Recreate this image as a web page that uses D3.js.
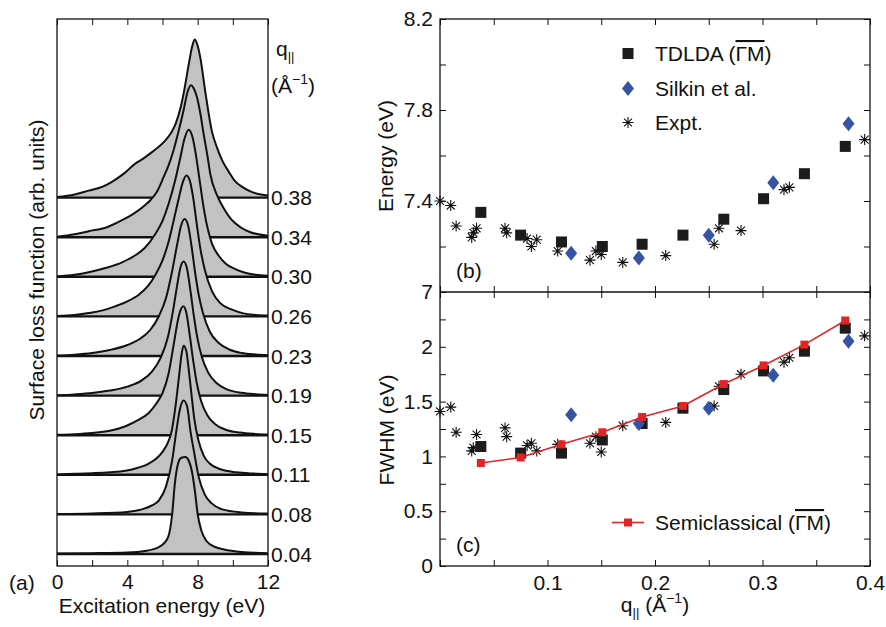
<!DOCTYPE html>
<html>
<head>
<meta charset="utf-8">
<script src="https://cdn.jsdelivr.net/npm/d3@7"></script>
<style>
  body { margin: 0; background: #fff; }
  svg { display: block; }
  text { font-family: "Liberation Sans", Arial, sans-serif; fill: #111; }
</style>
</head>
<body>
<script>
// ---- panel (a): loss spectra, [energy eV, height arb.] ----
const qLabels = ["0.04", "0.08", "0.11", "0.15", "0.19", "0.23", "0.26", "0.30", "0.34", "0.38"];

const loss004 = [[0,0.5],[2,0.8],[4,1.5],[5,3],[5.8,7],[6.3,16],[6.55,40],[6.7,70],[6.85,88],[7.05,96],[7.3,97],[7.5,93],[7.7,80],[7.85,62],[8.0,40],[8.2,24],[8.5,13],[9.0,7],[9.5,4.5],[10.5,2],[12,0.8]];
const loss008 = [[0,0.5],[2,1],[4,2.5],[5,6],[5.4,9],[5.8,14],[6.2,28],[6.55,54],[6.8,85],[7.0,106],[7.2,114],[7.4,108],[7.6,82],[7.8,62],[8.05,38],[8.4,20],[8.8,11],[9.4,5],[10.5,2],[12,0.8]];
const loss011 = [[0,0.4],[1,1],[2,1.6],[3,2.5],[3.9,4],[4.6,7],[5.2,11],[5.7,17],[6.0,23],[6.3,32],[6.5,42],[6.75,70],[6.95,100],[7.08,120],[7.2,129],[7.35,124],[7.5,104],[7.65,80],[7.8,57],[8.05,34],[8.35,19],[8.7,11],[9.3,5.5],[10.2,2.5],[11.2,1.2],[12,0.6]];
const loss015 = [[0,0.4],[1,1],[2,2.2],[3,4.5],[3.9,9],[4.6,15],[5.2,22],[5.7,33],[6.0,42],[6.35,62],[6.65,92],[6.9,117],[7.05,126],[7.18,129],[7.35,123],[7.55,100],[7.75,74],[7.95,52],[8.2,34],[8.55,20],[9.0,11],[9.6,5.5],[10.4,2.6],[11.3,1.2],[12,0.6]];
const loss019 = [[0,0.4],[1,1.2],[2,2.5],[3,5],[4,9],[4.8,15],[5.4,24],[5.9,38],[6.3,58],[6.6,85],[6.85,112],[7.02,128],[7.2,134],[7.38,128],[7.58,106],[7.78,80],[7.98,58],[8.25,38],[8.6,23],[9.1,12],[9.7,6],[10.5,2.8],[11.3,1.4],[12,0.7]];
const loss023 = [[0,0.4],[1,1.3],[2,3],[3,6],[4,11],[4.7,17],[5.3,26],[5.8,40],[6.2,58],[6.55,85],[6.85,113],[7.05,130],[7.26,137],[7.45,131],[7.65,110],[7.85,84],[8.05,62],[8.3,43],[8.7,24],[9.2,13],[9.8,6.5],[10.5,3],[11.3,1.5],[12,0.8]];
const loss026 = [[0,0.4],[1,1.5],[1.8,3.3],[2.6,6],[3.3,10],[4.0,15],[4.65,21.7],[5.2,31],[5.6,41.7],[6.0,56],[6.35,75],[6.65,97],[6.95,120],[7.15,134],[7.36,141],[7.55,136],[7.75,118],[7.95,92],[8.15,68],[8.4,47],[8.82,25],[9.3,13],[9.96,6.7],[10.6,3],[11.3,1.5],[12,0.8]];
const loss030 = [[0,0.4],[1,2],[1.8,4.5],[2.8,9],[3.7,14.5],[4.5,22],[5.0,29],[5.6,43],[6.0,56],[6.4,76],[6.7,95],[7.0,118],[7.25,138],[7.49,147],[7.7,140],[7.9,122],[8.1,98],[8.35,68],[8.6,46],[8.82,33],[9.2,21],[9.6,13],[10.14,7.7],[10.7,4],[11.3,2],[12,1]];
const loss034 = [[0,0.5],[1,3],[1.8,6],[2.84,10],[3.7,17],[4.36,23.5],[5.0,32],[5.31,37],[5.7,46],[6.06,60],[6.35,72],[6.63,87],[6.9,105],[7.2,127],[7.42,145],[7.62,152],[7.8,148],[7.96,140],[8.15,124],[8.34,103],[8.55,82],[8.72,63],[9.1,42],[9.48,29],[9.9,18],[10.43,10],[11,5],[12,1.5]];
const loss038 = [[0,0.5],[1,3],[1.8,7],[2.6,11],[3.1,15.5],[3.8,24],[4.45,34],[4.9,39],[5.4,45.5],[6.15,57],[6.5,65],[6.75,74],[7.0,88],[7.2,104],[7.5,134],[7.7,152],[7.83,158],[7.98,153],[8.15,140],[8.45,104],[8.8,67],[9.1,50],[9.4,37],[9.8,25],[10.1,17],[10.6,10],[11.1,5.5],[11.6,3],[12,2]];

// ---- panels (b) and (c) ----
const qTdlda = [0.038, 0.075, 0.113, 0.151, 0.188, 0.226, 0.264, 0.301, 0.339, 0.377];
const eTdlda = [7.35, 7.25, 7.22, 7.20, 7.21, 7.25, 7.32, 7.41, 7.52, 7.64];
const wTdlda = [1.09, 1.03, 1.03, 1.15, 1.30, 1.44, 1.61, 1.78, 1.96, 2.17];
const wSemi  = [0.94, 0.99, 1.11, 1.22, 1.36, 1.46, 1.66, 1.83, 2.02, 2.24];

const qSilkin = [0.122, 0.185, 0.25, 0.31, 0.38];
const eSilkin = [7.17, 7.15, 7.25, 7.48, 7.74];
const wSilkin = [1.38, 1.30, 1.44, 1.74, 2.05];

const qExpt = [0.0, 0.010, 0.015, 0.0295, 0.031, 0.034, 0.0605, 0.062, 0.081, 0.085, 0.090, 0.1095, 0.1395, 0.145, 0.150, 0.170, 0.210, 0.255, 0.2595, 0.280, 0.320, 0.325, 0.395];
const eExpt = [7.40, 7.38, 7.29, 7.24, 7.26, 7.28, 7.28, 7.26, 7.235, 7.20, 7.23, 7.18, 7.14, 7.18, 7.165, 7.13, 7.16, 7.21, 7.28, 7.27, 7.45, 7.46, 7.67];
const wExpt = [1.41, 1.45, 1.22, 1.05, 1.08, 1.20, 1.26, 1.18, 1.10, 1.12, 1.05, 1.11, 1.12, 1.18, 1.04, 1.28, 1.31, 1.46, 1.64, 1.75, 1.86, 1.90, 2.10];

const FS = 21;
const svg = d3.select("body").append("svg")
    .attr("width", 886)
    .attr("height", 627);

function styleAxis(g) {
  g.select(".domain").remove();
  g.selectAll("line").attr("stroke", "#111").attr("stroke-width", 1);
  g.selectAll("text")
    .attr("font-size", FS)
    .attr("font-family", '"Liberation Sans", Arial, sans-serif')
    .attr("fill", "#111");
}

// ================= panel (a) =================
const xA = d3.scaleLinear().domain([0, 12]).range([57, 268]);
const yA = d3.scaleLinear().domain([-12, 535]).range([566, 19]);
const step = 39.6;
const curves = [loss004, loss008, loss011, loss015, loss019, loss023, loss026, loss030, loss034, loss038];

const gA = svg.append("g");
for (let i = curves.length - 1; i >= 0; i--) {
  const off = i * step;
  const area = d3.area()
      .x(d => xA(d[0]))
      .y0(yA(off))
      .y1(d => yA(off + d[1]))
      .curve(d3.curveMonotoneX);
  const line = d3.line()
      .x(d => xA(d[0]))
      .y(d => yA(off + d[1]))
      .curve(d3.curveMonotoneX);
  gA.append("path").attr("d", area(curves[i])).attr("fill", "#c2c2c2");
  gA.append("line")
      .attr("x1", xA(0)).attr("x2", xA(12))
      .attr("y1", yA(off)).attr("y2", yA(off))
      .attr("stroke", "#111").attr("stroke-width", 2.4);
  gA.append("path").attr("d", line(curves[i]))
      .attr("fill", "none").attr("stroke", "#111").attr("stroke-width", 2);
  svg.append("text")
      .attr("x", 271).attr("y", yA(off)).attr("dy", "0.36em")
      .attr("font-size", FS)
      .text(qLabels[i]);
}

svg.append("g").attr("transform", `translate(0,${yA.range()[0]})`)
    .call(d3.axisBottom(xA).tickValues(d3.range(0, 13, 2)).tickSize(-6).tickPadding(8)
      .tickFormat(d => d % 4 === 0 ? d : ""))
    .call(styleAxis);
svg.append("g").attr("transform", `translate(0,${yA.range()[1]})`)
    .call(d3.axisTop(xA).tickValues(d3.range(0, 13, 2)).tickSize(-6).tickFormat(""))
    .call(styleAxis);
svg.append("rect")
    .attr("x", xA(0)).attr("y", yA.range()[1])
    .attr("width", xA(12) - xA(0)).attr("height", yA.range()[0] - yA.range()[1])
    .attr("fill", "none").attr("stroke", "#111").attr("stroke-width", 1.3);

const qHead = svg.append("text").attr("x", 276).attr("y", 56).attr("font-size", FS);
qHead.append("tspan").text("q");
qHead.append("tspan").attr("font-size", 13).attr("dy", 5).text("||");
const unitHead = svg.append("text").attr("x", 271).attr("y", 93).attr("font-size", FS);
unitHead.append("tspan").text("(Å");
unitHead.append("tspan").attr("font-size", 14).attr("dy", -9).text("−1");
unitHead.append("tspan").attr("dy", 9).text(")");

svg.append("text")
    .attr("transform", "translate(44,270) rotate(-90)")
    .attr("text-anchor", "middle").attr("font-size", FS)
    .text("Surface loss function (arb. units)");
svg.append("text").attr("x", 162).attr("y", 613)
    .attr("text-anchor", "middle").attr("font-size", FS)
    .text("Excitation energy (eV)");
svg.append("text").attr("x", 9).attr("y", 590).attr("font-size", FS).text("(a)");

// ================= panels (b), (c) =================
const xq = d3.scaleLinear().domain([0, 0.4]).range([440, 870]);
const yE = d3.scaleLinear().domain([7, 8.2]).range([292, 19]);
const yW = d3.scaleLinear().domain([0, 2.5]).range([566, 292]);

const qTicks = d3.range(9).map(i => i * 0.05);
const eTicks = d3.range(7).map(i => 7 + i * 0.2);
const wTicks = d3.range(11).map(i => i * 0.25);

// x ticks
svg.append("g").attr("transform", `translate(0,${yW(0)})`)
    .call(d3.axisBottom(xq).tickValues(qTicks).tickSize(-6).tickPadding(9)
      .tickFormat(d => (d > 0 && Math.abs(d * 10 - Math.round(d * 10)) < 1e-6) ? d3.format(".1f")(d) : ""))
    .call(styleAxis);
svg.append("g").attr("transform", `translate(0,${yE(8.2)})`)
    .call(d3.axisTop(xq).tickValues(qTicks).tickSize(-6).tickFormat(""))
    .call(styleAxis);
svg.append("g").attr("transform", `translate(0,${yE(7)})`)
    .call(d3.axisBottom(xq).tickValues(qTicks).tickSize(-6).tickFormat(""))
    .call(styleAxis);
svg.append("g").attr("transform", `translate(0,${yW(2.5)})`)
    .call(d3.axisTop(xq).tickValues(qTicks).tickSize(-6).tickFormat(""))
    .call(styleAxis);

// y ticks
svg.append("g").attr("transform", `translate(${xq(0)},0)`)
    .call(d3.axisLeft(yE).tickValues(eTicks).tickSize(-6).tickPadding(7)
      .tickFormat((d, i) => i % 2 === 0 ? String(+d.toFixed(1)) : ""))
    .call(styleAxis);
svg.append("g").attr("transform", `translate(${xq(0.4)},0)`)
    .call(d3.axisRight(yE).tickValues(eTicks).tickSize(-6).tickFormat(""))
    .call(styleAxis);
svg.append("g").attr("transform", `translate(${xq(0)},0)`)
    .call(d3.axisLeft(yW).tickValues(wTicks.slice(0, 10)).tickSize(-6).tickPadding(7)
      .tickFormat((d, i) => i % 2 === 0 ? String(d) : ""))
    .call(styleAxis);
svg.append("g").attr("transform", `translate(${xq(0.4)},0)`)
    .call(d3.axisRight(yW).tickValues(wTicks).tickSize(-6).tickFormat(""))
    .call(styleAxis);

svg.append("rect")
    .attr("x", xq(0)).attr("y", yE(8.2))
    .attr("width", xq(0.4) - xq(0)).attr("height", yW(0) - yE(8.2))
    .attr("fill", "none").attr("stroke", "#111").attr("stroke-width", 1.3);
svg.append("line")
    .attr("x1", xq(0)).attr("x2", xq(0.4))
    .attr("y1", yE(7)).attr("y2", yE(7))
    .attr("stroke", "#111").attr("stroke-width", 1.3);

// markers
const starPath = r => {
  const a = r * 0.72;
  return `M0,${-r}V${r}M${-r},0H${r}M${-a},${-a}L${a},${a}M${-a},${a}L${a},${-a}`;
};
const diamondPath = "M0,-7.5L6,0L0,7.5L-6,0Z";
const blue = "#3653a5", red = "#e42326", black = "#1c1c1c";

function drawStars(g, ys, yScale) {
  g.selectAll(null).data(qExpt).join("path")
    .attr("transform", (d, i) => `translate(${xq(d)},${yScale(ys[i])})`)
    .attr("d", starPath(5.5))
    .attr("fill", "none").attr("stroke", "#111").attr("stroke-width", 1.1);
}
function drawSquares(g, qs, ys, yScale, size, color) {
  g.selectAll(null).data(qs).join("rect")
    .attr("x", d => xq(d) - size / 2)
    .attr("y", (d, i) => yScale(ys[i]) - size / 2)
    .attr("width", size).attr("height", size)
    .attr("fill", color);
}
function drawDiamonds(g, ys, yScale) {
  g.selectAll(null).data(qSilkin).join("path")
    .attr("transform", (d, i) => `translate(${xq(d)},${yScale(ys[i])})`)
    .attr("d", diamondPath).attr("fill", blue);
}

const gB = svg.append("g");
drawStars(gB, eExpt, yE);
drawSquares(gB, qTdlda, eTdlda, yE, 11, black);
drawDiamonds(gB, eSilkin, yE);

const gC = svg.append("g");
drawStars(gC, wExpt, yW);
drawSquares(gC, qTdlda, wTdlda, yW, 11, black);
drawDiamonds(gC, wSilkin, yW);
gC.append("path")
    .attr("d", d3.line().x(d => xq(d)).y((d, i) => yW(wSemi[i]))(qTdlda))
    .attr("fill", "none").attr("stroke", red).attr("stroke-width", 1.6);
drawSquares(gC, qTdlda, wSemi, yW, 8, red);

// legend (b)
svg.append("rect").attr("x", 628 - 5.5).attr("y", 53.5 - 5.5).attr("width", 11).attr("height", 11).attr("fill", black);
const leg1 = svg.append("text").attr("x", 655).attr("y", 61).attr("font-size", FS);
leg1.append("tspan").text("TDLDA (");
leg1.append("tspan").style("text-decoration", "overline").text("ΓM");
leg1.append("tspan").text(")");
svg.append("path").attr("transform", "translate(628,88.5)").attr("d", diamondPath).attr("fill", blue);
svg.append("text").attr("x", 655).attr("y", 96).attr("font-size", FS).text("Silkin et al.");
svg.append("path").attr("transform", "translate(628,122.5)").attr("d", starPath(5.5))
    .attr("fill", "none").attr("stroke", "#111").attr("stroke-width", 1.1);
svg.append("text").attr("x", 655).attr("y", 130).attr("font-size", FS).text("Expt.");

// legend (c)
svg.append("line").attr("x1", 612).attr("x2", 644).attr("y1", 522.5).attr("y2", 522.5)
    .attr("stroke", red).attr("stroke-width", 1.6);
svg.append("rect").attr("x", 624).attr("y", 518.5).attr("width", 8).attr("height", 8).attr("fill", red);
const leg2 = svg.append("text").attr("x", 655).attr("y", 530).attr("font-size", FS);
leg2.append("tspan").text("Semiclassical (");
leg2.append("tspan").style("text-decoration", "overline").text("ΓM");
leg2.append("tspan").text(")");

svg.append("text").attr("x", 456).attr("y", 278).attr("font-size", FS).text("(b)");
svg.append("text").attr("x", 456).attr("y", 552).attr("font-size", FS).text("(c)");

svg.append("text")
    .attr("transform", "translate(393,156) rotate(-90)")
    .attr("text-anchor", "middle").attr("font-size", FS)
    .text("Energy (eV)");
svg.append("text")
    .attr("transform", "translate(394,430) rotate(-90)")
    .attr("text-anchor", "middle").attr("font-size", FS)
    .text("FWHM (eV)");

const xLab = svg.append("text").attr("x", 655).attr("y", 612)
    .attr("text-anchor", "middle").attr("font-size", FS);
xLab.append("tspan").text("q");
xLab.append("tspan").attr("font-size", 13).attr("dy", 5).text("||");
xLab.append("tspan").attr("dy", -5).text(" (Å");
xLab.append("tspan").attr("font-size", 14).attr("dy", -9).text("−1");
xLab.append("tspan").attr("dy", 9).text(")");
</script>
</body>
</html>
